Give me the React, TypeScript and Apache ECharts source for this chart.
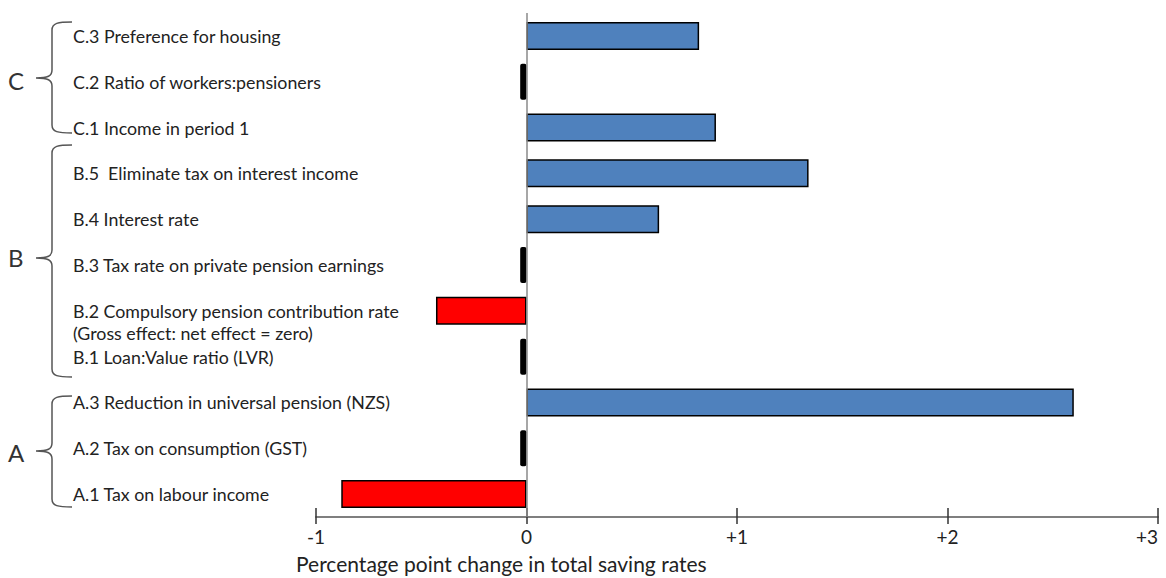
import React, { useEffect, useRef } from 'react';
import * as echarts from 'echarts';

// Rows listed top to bottom
const categories = [
  'C.3 Preference for housing',
  'C.2 Ratio of workers:pensioners',
  'C.1 Income in period 1',
  'B.5  Eliminate tax on interest income',
  'B.4 Interest rate',
  'B.3 Tax rate on private pension earnings',
  'B.2 Compulsory pension contribution rate\n(Gross effect: net effect = zero)',
  'B.1 Loan:Value ratio (LVR)',
  'A.3 Reduction in universal pension (NZS)',
  'A.2 Tax on consumption (GST)',
  'A.1 Tax on labour income',
];
// Percentage point change in total saving rates
const effects = [0.82, null, 0.9, 1.34, 0.63, null, -0.43, null, 2.6, null, -0.88];
// Rows with a negligible (near-zero) effect, drawn as black markers
const negligible = [null, -0.03, null, null, null, -0.03, null, -0.03, null, -0.03, null];
const groupLetters = ['C', 'B', 'A'];
const xMin = -1;
const xMax = 3;
const xInterval = 1;
const axisTitle = 'Percentage point change in total saving rates';

const FONT = 'Lato, "Open Sans", sans-serif';

function braceD(top: number, mid: number, bottom: number) {
  const xt = 36, xv = 52, xe = 72;
  return `M${xe},${top} C${xv + 6},${top} ${xv},${top + 1} ${xv},${top + 8} L${xv},${mid - 8} C${xv},${mid - 2} ${xv - 4},${mid} ${xt},${mid} C${xv - 4},${mid} ${xv},${mid + 2} ${xv},${mid + 8} L${xv},${bottom - 8} C${xv},${bottom - 1} ${xv + 6},${bottom} ${xe},${bottom}`;
}

const braces = [
  { name: 'braceC', top: 22, mid: 78, bottom: 133, letterY: 80 },
  { name: 'braceB', top: 145, mid: 258, bottom: 377, letterY: 257 },
  { name: 'braceA', top: 396, mid: 451, bottom: 507, letterY: 452 },
];
braces.forEach((b) => {
  echarts.graphic.registerShape(b.name, echarts.graphic.extendPath(braceD(b.top, b.mid, b.bottom), {}));
});

export default function App() {
  const ref = useRef<HTMLDivElement>(null);
  useEffect(() => {
    if (!ref.current) return;
    const chart = echarts.init(ref.current, null, { renderer: 'svg' });
    const option: any = {
      animation: false,
      backgroundColor: '#ffffff',
      grid: { left: 316, right: 8, top: 13, bottom: 61, containLabel: false, outerBoundsMode: 'none' },
      title: {
        text: axisTitle,
        left: 296,
        top: 553,
        padding: 0,
        textStyle: { fontFamily: FONT, fontSize: 21, fontWeight: 'normal', color: '#222' },
      },
      xAxis: [
        {
          type: 'value',
          min: xMin,
          max: xMax,
          interval: xInterval,
          position: 'bottom',
          splitLine: { show: false },
          axisLine: { show: true, lineStyle: { color: '#7f7f7f', width: 2 } },
          axisTick: { show: true, inside: false, length: 7, lineStyle: { color: '#333', width: 1.5 } },
          axisLabel: {
            margin: 10,
            fontFamily: FONT,
            fontSize: 19,
            color: '#222',
            alignMaxLabel: 'right',
            formatter: (v: number) => (v > 0 ? '+' + v : String(v)),
          },
        },
        {
          type: 'value',
          min: xMin,
          max: xMax,
          interval: xInterval,
          position: 'bottom',
          offset: 0,
          splitLine: { show: false },
          axisLine: { show: false },
          axisTick: { show: true, inside: true, length: 9, lineStyle: { color: '#333', width: 1.5 } },
          axisLabel: { show: false },
        },
      ],
      yAxis: [
        {
          type: 'category',
          inverse: true,
          data: categories,
          axisLine: { show: false },
          axisTick: { show: false },
          axisLabel: {
            align: 'left',
            margin: 243,
            fontFamily: FONT,
            fontSize: 17.8,
            lineHeight: 22,
            color: '#222',
            // two-line label: first line level with its bar, second line below
            formatter: (v: string) => (v.indexOf('\n') >= 0 ? '\n' + v : v),
          },
        },
        {
          type: 'category',
          inverse: true,
          data: categories,
          position: 'left',
          show: false,
        },
      ],
      series: [
        {
          type: 'bar',
          xAxisIndex: 0,
          yAxisIndex: 0,
          barWidth: 28,
          data: effects.map((v) =>
            v == null
              ? null
              : { value: v, itemStyle: { color: v >= 0 ? '#4f81bd' : '#ff0000' } }
          ),
          itemStyle: { borderColor: '#000', borderWidth: 1.5 },
          markLine: {
            silent: true,
            symbol: 'none',
            label: { show: false },
            lineStyle: { color: '#8a8a8a', width: 1.5, type: 'solid' },
            data: [{ xAxis: 0 }],
          },
        },
        {
          type: 'bar',
          xAxisIndex: 0,
          yAxisIndex: 1,
          barWidth: 36,
          data: negligible,
          itemStyle: { color: '#000', borderRadius: 2 },
        },
      ],
      graphic: [
        ...braces.map((b) => ({
          type: b.name,
          x: 0,
          y: 0,
          style: { fill: 'none', stroke: '#555', lineWidth: 1.5 },
        })),
        ...braces.map((b, i) => ({
          type: 'text',
          x: 8,
          y: b.letterY,
          style: {
            text: groupLetters[i],
            fontFamily: FONT,
            fontSize: 24,
            fill: '#333',
            verticalAlign: 'middle',
          },
        })),
      ],
    };
    chart.setOption(option);
    return () => chart.dispose();
  }, []);
  return (
    <div
      ref={ref}
      style={{ position: 'fixed', left: 0, top: 0, width: 1166, height: 578, background: '#fff' }}
    />
  );
}
